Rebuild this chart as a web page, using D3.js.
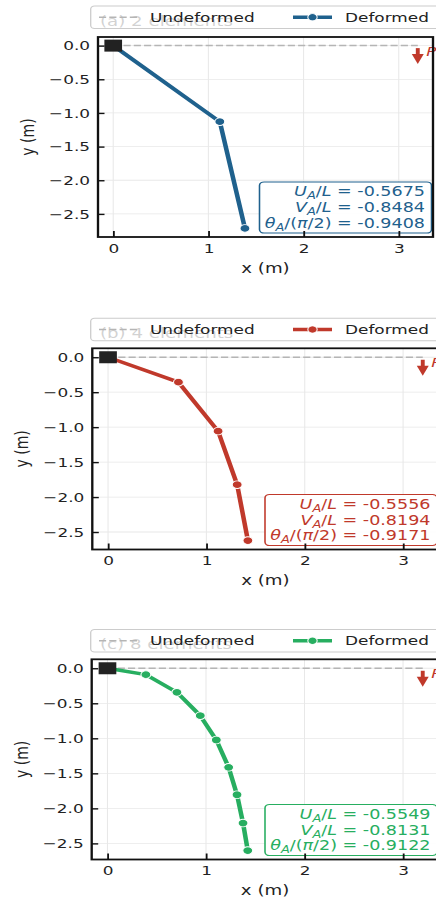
<!DOCTYPE html>
<html><head><meta charset="utf-8">
<script src="https://cdn.jsdelivr.net/npm/d3@7"></script>
<style>html,body{margin:0;padding:0;background:#fff;overflow:hidden}</style>
</head><body>
<svg id="chart" width="436" height="901"></svg>
<script>
// ---------------- data ----------------
const beamLength = 3.2;
const panelTitles = ["(a) 2 elements", "(b) 4 elements", "(c) 8 elements"];
const seriesColors = ["#1f618d", "#c0392b", "#27ae60"];
const nodesX2 = [0, 1.12, 1.384];
const nodesY2 = [0, -1.13, -2.715];
const nodesX4 = [0, 0.716, 1.119, 1.313, 1.422];
const nodesY4 = [0, -0.357, -1.057, -1.823, -2.622];
const nodesX8 = [0, 0.39, 0.705, 0.942, 1.105, 1.230, 1.315, 1.376, 1.424];
const nodesY8 = [0, -0.091, -0.343, -0.677, -1.024, -1.414, -1.806, -2.21, -2.602];
const tipU = ["-0.5675", "-0.5556", "-0.5549"];
const tipV = ["-0.8484", "-0.8194", "-0.8131"];
const tipTheta = ["-0.9408", "-0.9171", "-0.9122"];
const xTicks = [0, 1, 2, 3];
const yTicks = [0, -0.5, -1, -1.5, -2, -2.5];
const legendLabels = ["Undeformed", "Deformed"];
const xLabel = "x (m)", yLabel = "y (m)", loadLabel = "P";

const nodesX = [nodesX2, nodesX4, nodesX8];
const nodesY = [nodesY2, nodesY4, nodesY8];

// ---------------- layout (pixels of the 436x901 picture) ----------------
const K = 1.3; // horizontal stretch of the picture
const layout = [
  {left: 98,   right: 433,   top: 37,    bottom: 237,   legendTop: 6},
  {left: 92.3, right: 438.5, top: 348.3, bottom: 549.5, legendTop: 318.3},
  {left: 91.7, right: 438.5, top: 659.3, bottom: 859.5, legendTop: 629.5}
];
const FONT = "DejaVu Sans";
const svg = d3.select("#chart")
  .attr("viewBox", `0 0 ${436 / K} 901`)
  .attr("preserveAspectRatio", "none");

layout.forEach((lay, i) => {
  const col = seriesColors[i];
  const xs = nodesX[i], ys = nodesY[i];
  const pts = xs.map((v, j) => [v, ys[j]]);
  const x = d3.scaleLinear().domain([-0.05 * beamLength, 1.05 * beamLength])
    .range([lay.left / K, lay.right / K]);
  const y = d3.scaleLinear().domain([d3.min(ys) - 0.04 * beamLength, 0.04 * beamLength])
    .range([lay.bottom, lay.top]);
  const g = svg.append("g").attr("font-family", FONT);

  // title (sits beneath legend)
  g.append("text").attr("x", 100 / K).attr("y", lay.legendTop + 20)
    .attr("font-size", 14).attr("fill", "#222").text(panelTitles[i]);

  // legend
  const lg = g.append("g");
  const ly = lay.legendTop + 11.2;
  lg.append("rect").attr("x", 90.7 / K).attr("y", lay.legendTop)
    .attr("width", (450 - 90.7) / K).attr("height", 22.5).attr("rx", 3)
    .attr("fill", "#fff").attr("fill-opacity", 0.8)
    .attr("stroke", "#cccccc").attr("stroke-width", 1);
  lg.append("line").attr("x1", 99 / K).attr("x2", 138 / K).attr("y1", ly).attr("y2", ly)
    .attr("stroke", "#b5b5b5").attr("stroke-width", 1.5).attr("stroke-dasharray", "5.5,2.4");
  lg.append("text").attr("x", 150 / K).attr("y", ly + 4.6).attr("font-size", 13)
    .attr("fill", "#222").text(legendLabels[0]);
  lg.append("line").attr("x1", 293 / K).attr("x2", 332 / K).attr("y1", ly).attr("y2", ly)
    .attr("stroke", col).attr("stroke-width", 3.5);
  lg.append("circle").attr("cx", 312.5 / K).attr("cy", ly).attr("r", 3.6)
    .attr("fill", col).attr("stroke", "#fff").attr("stroke-width", 0.8);
  lg.append("text").attr("x", 345 / K).attr("y", ly + 4.6).attr("font-size", 13)
    .attr("fill", "#222").text(legendLabels[1]);

  // grid
  const grid = g.append("g").attr("stroke", "#e8e8e8").attr("stroke-width", 0.8);
  xTicks.forEach(t => grid.append("line").attr("x1", x(t)).attr("x2", x(t))
    .attr("y1", lay.top).attr("y2", lay.bottom));
  yTicks.forEach(t => grid.append("line").attr("y1", y(t)).attr("y2", y(t))
    .attr("x1", lay.left / K).attr("x2", lay.right / K));

  // undeformed
  g.append("line").attr("x1", x(0)).attr("x2", x(beamLength)).attr("y1", y(0)).attr("y2", y(0))
    .attr("stroke", "#b5b5b5").attr("stroke-width", 1.5).attr("stroke-dasharray", "5.5,2.4");

  // deformed
  g.append("path").datum(pts)
    .attr("d", d3.line().x(d => x(d[0])).y(d => y(d[1])))
    .attr("fill", "none").attr("stroke", col).attr("stroke-width", 3.5)
    .attr("stroke-linejoin", "round");
  g.selectAll(null).data(pts.slice(1)).join("circle")
    .attr("cx", d => x(d[0])).attr("cy", d => y(d[1])).attr("r", 3.8)
    .attr("fill", col).attr("stroke", "#fff").attr("stroke-width", 0.8);

  // support
  g.append("rect").attr("x", x(0) - 6.8).attr("y", y(0) - 6).attr("width", 13.6).attr("height", 12)
    .attr("fill", "#222");

  // load arrow
  const ax = x(beamLength), ay0 = y(0) + 2.5, ay1 = y(0) + 18.5;
  g.append("line").attr("x1", ax).attr("x2", ax).attr("y1", ay0).attr("y2", ay1 - 8)
    .attr("stroke", "#c0392b").attr("stroke-width", 3);
  g.append("path").attr("d", `M${ax - 4.6},${ay1 - 10}L${ax + 4.6},${ay1 - 10}L${ax},${ay1}Z`)
    .attr("fill", "#c0392b");
  g.append("text").attr("x", ax + 6.5).attr("y", y(0) + 10).attr("font-size", 13)
    .attr("font-style", "italic").attr("fill", "#c0392b").text(loadLabel);

  // annotation box
  const bRight = (lay.right - 1.5) / K, bW = 172 / K, bTop = lay.bottom - 55, bH = 51;
  g.append("rect").attr("x", bRight - bW).attr("y", bTop).attr("width", bW).attr("height", bH)
    .attr("rx", 3.5).attr("fill", "#fff").attr("fill-opacity", 0.9)
    .attr("stroke", col).attr("stroke-width", 1.2);
  const tx = (lay.right - 8) / K;
  const lines = [
    [["U", true], ["A", true, true], ["/", false], ["L", true], [" = " + tipU[i], false]],
    [["V", true], ["A", true, true], ["/", false], ["L", true], [" = " + tipV[i], false]],
    [["θ", true], ["A", true, true], ["/(", false], ["π", true], ["/2) = " + tipTheta[i], false]]
  ];
  lines.forEach((parts, k) => {
    const t = g.append("text").attr("x", tx).attr("y", bTop + 14.3 + k * 15.8)
      .attr("text-anchor", "end").attr("font-size", 13.5).attr("fill", col);
    let sub = false;
    parts.forEach(p => {
      const ts = t.append("tspan").text(p[0]);
      if (p[1]) ts.attr("font-style", "italic");
      if (p[2]) { ts.attr("font-size", 10).attr("dy", 3); sub = true; }
      else if (sub) { ts.attr("dy", -3); sub = false; }
    });
  });

  // axes
  const xAxis = g.append("g").attr("transform", `translate(0,${lay.bottom})`)
    .call(d3.axisBottom(x).tickValues(xTicks).tickFormat(d3.format("d")).tickSize(-6).tickPadding(6.5));
  const yAxis = g.append("g").attr("transform", `translate(${lay.left / K},0)`)
    .call(d3.axisLeft(y).tickValues(yTicks).tickFormat(d3.format(".1f")).tickSize(-5).tickPadding(8 / K));
  [xAxis, yAxis].forEach(a => {
    a.select(".domain").remove();
    a.selectAll(".tick line").attr("stroke", "#111").attr("stroke-width", 1.4);
    a.selectAll(".tick text").attr("font-family", FONT).attr("font-size", 13).attr("fill", "#222");
  });
  g.append("rect").attr("x", lay.left / K).attr("y", lay.top)
    .attr("width", (lay.right - lay.left) / K).attr("height", lay.bottom - lay.top)
    .attr("fill", "none").attr("stroke", "#111").attr("stroke-width", 1.8);

  // axis labels
  g.append("text").attr("x", (lay.left + lay.right) / 2 / K).attr("y", lay.bottom + 36)
    .attr("text-anchor", "middle").attr("font-size", 14).attr("fill", "#222").text(xLabel);
  g.append("text").attr("transform", `translate(${(lay.left - 64) / K},${(lay.top + lay.bottom) / 2}) rotate(-90)`)
    .attr("text-anchor", "middle").attr("font-size", 14).attr("fill", "#222").text(yLabel);
});
</script>
</body></html>
